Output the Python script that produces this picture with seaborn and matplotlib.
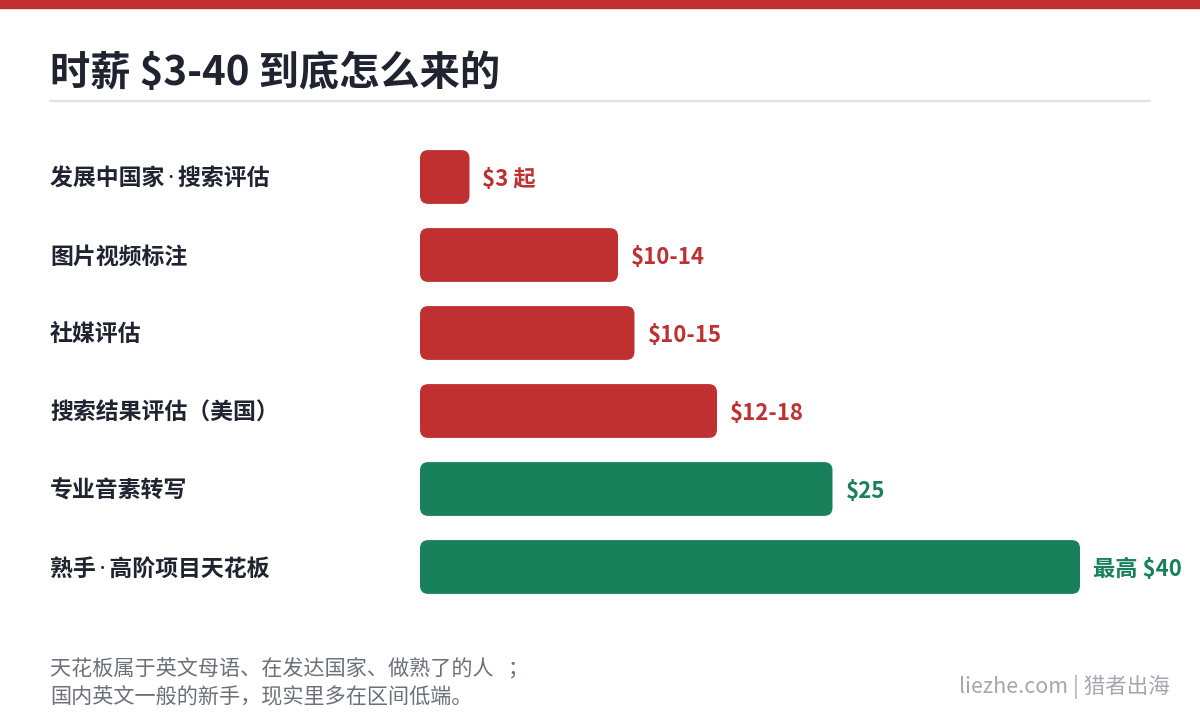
import seaborn as sns
import matplotlib.pyplot as plt
import pandas as pd
from matplotlib.patches import FancyBboxPatch, Rectangle

sns.set_style('white')
plt.rcParams['font.family'] = ['Noto Sans CJK SC', 'DejaVu Sans']

# data
categories = ['发展中国家\u2009·\u2009搜索评估', '图片视频标注', '社媒评估',
              '搜索结果评估（美国）', '专业音素转写', '熟手\u2009·\u2009高阶项目天花板']
bar_values = [3, 12, 13, 18, 25, 40]
value_labels = ['$3 起', '$10-14', '$10-15', '$12-18', '$25', '最高 $40']
groups = ['low', 'low', 'low', 'low', 'high', 'high']

RED = '#C03031'
GREEN = '#18805A'
palette = {'low': RED, 'high': GREEN}

df = pd.DataFrame({'cat': categories, 'val': bar_values, 'grp': groups})

fig = plt.figure(figsize=(12, 7.2), dpi=100)
W, H = 1200, 720

# top band
fig.patches.append(Rectangle((0, 1 - 8 / H), 1, 8 / H, transform=fig.transFigure,
                             color=RED, zorder=0))
fig.text(50 / W, 1 - 73 / H, '时薪 $3-40 到底怎么来的', fontsize=29, fontweight='bold',
         color='#1F2430', va='center', ha='left')
fig.lines.append(plt.Line2D([50 / W, 1150 / W], [1 - 101 / H, 1 - 101 / H],
                            transform=fig.transFigure, color='#E2E2E4', lw=1.6))

# axes: x 420..1180 px, rows from 138..606 px
px_per_unit = 16.5
ax = fig.add_axes([420 / W, (H - 606) / H, 760 / W, 468 / H])
sns.barplot(data=df, x='val', y='cat', hue='grp', palette=palette, orient='h',
            width=0.69, dodge=False, legend=False, saturation=1, ax=ax)
ax.set_xlim(0, 760 / px_per_unit)
ax.set_ylim(5.5, -0.5)

# rounded bars
aspect = px_per_unit / 78.0
for p in list(ax.patches):
    if p.get_width() <= 0:
        continue
    x, y, w, h = p.get_x(), p.get_y(), p.get_width(), p.get_height()
    fc = p.get_facecolor()
    p.remove()
    ax.add_patch(FancyBboxPatch((x, y), w, h,
                                boxstyle='round,pad=0,rounding_size=0.5',
                                mutation_aspect=aspect, facecolor=fc,
                                edgecolor='none'))

# narrow middle dot from Latin font, CJK glyphs from fallback
label_fonts = ['Noto Sans', 'Noto Sans CJK SC']
for i, (v, lab, g) in enumerate(zip(bar_values, value_labels, groups)):
    ax.text(v + 13 / px_per_unit, i + 0.03, lab, color=palette[g], fontsize=16,
            fontweight='bold', va='center', ha='left')
    ax.text(-370 / px_per_unit, i + 0.03, categories[i], color='#1F2430',
            fontsize=16.5, fontweight='bold', va='center', ha='left',
            family=label_fonts, clip_on=False)

ax.set_axis_off()

fig.text(50 / W, 1 - 668 / H, '天花板属于英文母语、在发达国家、做熟了的人   ；',
         fontsize=15.2, color='#6B7079', va='center', ha='left')
fig.text(50 / W, 1 - 697 / H, '国内英文一般的新手，现实里多在区间低端。',
         fontsize=15.2, color='#6B7079', va='center', ha='left')
fig.text(1170 / W, 1 - 687 / H, 'liezhe.com | 猎者出海', fontsize=15.5,
         color='#A3A7AE', va='center', ha='right')

fig.savefig('out.png', dpi=100)
